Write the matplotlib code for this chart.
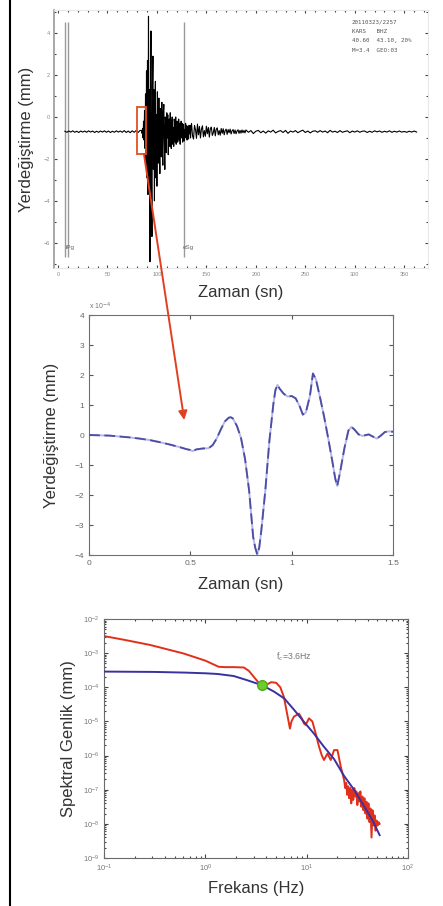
import numpy as np
import matplotlib
matplotlib.use("Agg")
import matplotlib.pyplot as plt
from matplotlib.patches import Rectangle, ConnectionPatch
from matplotlib.lines import Line2D
from matplotlib.ticker import MultipleLocator, LogLocator, NullFormatter

plt.rcParams['font.family'] = ['Liberation Sans', 'DejaVu Sans']

# ---------------- seismogram (top panel) ----------------
trace_offset = -0.7          # DC level of the record
pre_t0, pre_dt = 7.0, 2.0
pre_event = [0.02, -0.03, 0.03, -0.02, 0.04, -0.03, 0.02, -0.04, 0.03, -0.02,
             0.03, -0.03, 0.04, -0.02, 0.03, -0.04, 0.02, -0.03, 0.03, -0.02,
             0.04, -0.03, 0.03, -0.04, 0.02, -0.03, 0.04, -0.02, 0.03, -0.03,
             0.05, -0.04, 0.03, -0.05, 0.04, -0.03, 0.05, -0.04, 0.06]
strong_t0, strong_dt = 84.5, 0.5
strong_motion = [0.05, -0.08, 0.15, -0.3, 0.5, -0.4, 1.0, -0.8, 1.8, -1.5,
                 2.9, -2.2, 3.4, -3.0, 5.5, -1.8, 2.0, -6.2, 1.5, 4.8,
                 -2.5, -5.0, 2.2, 3.6, -1.8, 2.0, -3.3, 1.2, 2.4, -2.2,
                 0.8, -2.6, 1.9, 0.5, -1.5, 1.6, -0.8, -2.0, 1.1, 0.6,
                 -1.2, 1.4, -0.6, -1.6, 0.9, 1.3, -0.5, -1.8, 0.7, 0.4,
                 -1.0, 0.9, -0.3, 0.8, -1.1, 0.3, 0.6, -0.7, 0.9, -0.4,
                 -0.8, 0.5, 0.7, -0.6, 0.2, -0.7, 0.6, 0.3, -0.5, 0.7,
                 -0.6, 0.2, 0.5, -0.5, -0.2, 0.6, -0.4, 0.4, -0.6, 0.1,
                 0.5, -0.3, 0.4, -0.5, 0.2, 0.35, -0.45, 0.1, -0.3, 0.4,
                 -0.2, 0.3, -0.4, 0.25, 0.1, -0.35, 0.3, -0.1, 0.3, -0.3, 0.25]
coda_t0, coda_dt = 135.0, 1.0
coda = [0.38, -0.2, -0.35, 0.3, 0.1, -0.32, 0.36, -0.15, 0.25, -0.3,
        0.12, 0.28, -0.25, 0.05, -0.22, 0.26, -0.1, 0.2, -0.26, 0.15,
        0.22, -0.18, -0.05, 0.2, -0.2, 0.12, 0.18, -0.15, 0.05, -0.17,
        0.15, -0.08, 0.14, -0.15, 0.05, 0.12, -0.13, 0.1, -0.05, 0.12,
        -0.11, 0.04, 0.1, -0.09, 0.08, -0.1, 0.03, 0.09, -0.08, 0.06,
        -0.07, 0.08, -0.05, 0.06, -0.06]
tail_t0, tail_dt = 190.0, 2.5
tail = [0.08, -0.03, 0.05, -0.09, 0.02, 0.06, -0.05, 0.03, -0.07, 0.04,
        -0.02, 0.07, -0.06, 0.01, 0.05, -0.04, 0.06, -0.08, 0.03, -0.02,
        0.05, -0.05, 0.02, 0.07, -0.04, 0.03, -0.06, 0.02, 0.04, -0.03,
        0.05, -0.02, 0.03, -0.05, 0.06, -0.02, 0.02, -0.04, 0.05, -0.03,
        0.01, 0.04, -0.05, 0.03, -0.02, 0.04, -0.03, 0.02, 0.03, -0.04,
        0.02, -0.03, 0.04, -0.01, 0.03, -0.03, 0.02, -0.02, 0.04, -0.03,
        0.02, -0.02, 0.03, -0.02, 0.01, -0.03, 0.02, -0.02, 0.03, -0.02]
pick_times = [7.0, 10.0, 127.0]
pick_labels = ['iPg', 'eSg']
pick_label_times = [8.0, 126.0]
window_start, window_end = 79.8, 88.9          # zoomed window (s)
window_low, window_high = -1.76, 0.48
header_lines = ['20110323/2257', 'KARS   BHZ', '40.60  43.10, 20%', 'M=3.4  GEO:03']
top_xticks = [0, 50, 100, 150, 200, 250, 300, 350]
top_yticks = [4, 2, 0, -2, -4, -6]

# ---------------- zoomed window (middle panel) ----------------
zoom_time = [0, 0.05, 0.10, 0.15, 0.20, 0.25, 0.30, 0.35, 0.40, 0.45,
             0.48, 0.50, 0.51, 0.53, 0.56, 0.59, 0.61, 0.63, 0.65, 0.67,
             0.69, 0.70, 0.71, 0.73, 0.75, 0.77, 0.79, 0.81, 0.82, 0.83,
             0.84, 0.85, 0.87, 0.89, 0.91, 0.92, 0.93, 0.94, 0.96, 0.98,
             1.00, 1.02, 1.04, 1.055, 1.07, 1.09, 1.105, 1.12, 1.14, 1.16,
             1.18, 1.20, 1.215, 1.225, 1.24, 1.26, 1.28, 1.295, 1.31, 1.33,
             1.35, 1.38, 1.40, 1.42, 1.44, 1.46, 1.48, 1.50]
zoom_disp = [0, -0.01, -0.02, -0.05, -0.08, -0.12, -0.17, -0.24, -0.32, -0.41,
             -0.47, -0.50, -0.54, -0.48, -0.45, -0.44, -0.34, -0.12, 0.18, 0.45,
             0.58, 0.59, 0.55, 0.30, -0.10, -0.80, -1.85, -3.40, -3.75, -3.98,
             -3.75, -3.20, -1.85, -0.20, 1.05, 1.50, 1.67, 1.55, 1.38, 1.28,
             1.30, 1.22, 0.95, 0.68, 0.75, 1.30, 2.05, 1.85, 1.25, 0.61,
             -0.10, -0.85, -1.45, -1.70, -1.20, -0.45, 0.15, 0.27, 0.18, 0.02,
             -0.03, 0.02, -0.05, -0.12, -0.02, 0.10, 0.12, 0.11]   # x 1e-4 mm
mid_xticks = [0, 0.5, 1, 1.5]
mid_xticklabels = ['0', '0.5', '1', '1.5']
mid_yticks = [-4, -3, -2, -1, 0, 1, 2, 3, 4]

# ---------------- displacement spectrum (bottom panel) ----------------
obs_log_f = [-1.00, -0.80, -0.545, -0.40, -0.215, 0.0, 0.132, 0.20, 0.28, 0.38,
             0.43, 0.48, 0.53, 0.56, 0.60, 0.65, 0.70, 0.74, 0.775, 0.81,
             0.835, 0.85, 0.874, 0.924, 0.95, 0.973, 0.99, 1.023, 1.056, 1.089,
             1.122, 1.15, 1.171, 1.205, 1.238, 1.27, 1.304, 1.337, 1.37, 1.38,
             1.39, 1.40, 1.41, 1.42, 1.43, 1.44, 1.45, 1.46, 1.47, 1.48,
             1.49, 1.50, 1.51, 1.52, 1.53, 1.54, 1.55, 1.56, 1.57, 1.58,
             1.59, 1.60, 1.61, 1.62, 1.63, 1.64, 1.65, 1.66, 1.67, 1.68,
             1.69, 1.70, 1.71, 1.72]
obs_log_amp = [-2.50, -2.61, -2.76, -2.87, -3.01, -3.22, -3.40, -3.41, -3.41, -3.42,
               -3.52, -3.70, -3.88, -3.98, -3.93, -3.85, -3.87, -4.00, -4.28, -4.82,
               -5.21, -5.00, -4.86, -4.77, -4.90, -5.06, -5.10, -4.91, -5.00, -5.35,
               -5.74, -6.00, -6.13, -5.94, -6.13, -5.84, -5.84, -6.33, -6.72, -6.95,
               -6.80, -7.15, -6.90, -7.25, -6.95, -7.40, -7.00, -7.30, -6.95, -7.20,
               -7.05, -7.45, -7.10, -7.35, -7.05, -7.50, -7.20, -7.60, -7.25, -7.70,
               -7.35, -7.85, -7.40, -7.95, -7.55, -8.40, -7.60, -8.05, -7.75, -8.20,
               -7.90, -8.05, -7.95, -8.00]
model_log_f = [-1.0, -0.5, -0.2, 0.0, 0.12, 0.28, 0.41, 0.56, 0.68, 0.78,
               0.87, 0.97, 1.07, 1.17, 1.27, 1.37, 1.47, 1.57, 1.65, 1.72]
model_log_amp = [-3.54, -3.55, -3.57, -3.59, -3.61, -3.67, -3.79, -3.94, -4.13, -4.33,
                 -4.64, -5.00, -5.35, -5.74, -6.10, -6.60, -7.01, -7.50, -7.90, -8.33]
corner_freq = 3.6         # Hz
corner_amp = 1.15e-4      # mm

# ---------------- figure ----------------
W, H = 443, 906
fig = plt.figure(figsize=(W / 100, H / 100), dpi=100)
fig.patch.set_facecolor('white')


def axes_px(left, top, right, bottom):
    return fig.add_axes([left / W, 1 - bottom / H, (right - left) / W, (bottom - top) / H])


label_color = '#333333'

# ---- top: full record ----
ax1 = axes_px(54, 10, 428, 268)
t_rec = np.concatenate([
    pre_t0 + pre_dt * np.arange(len(pre_event)),
    strong_t0 + strong_dt * np.arange(len(strong_motion)),
    coda_t0 + coda_dt * np.arange(len(coda)),
    tail_t0 + tail_dt * np.arange(len(tail)),
])
u_rec = np.concatenate([pre_event, strong_motion, coda, tail]) + trace_offset
ax1.plot(t_rec, u_rec, color='black', lw=0.8, zorder=2)
ax1.vlines(pick_times, -6.67, 4.52, colors='#9a9a9a', lw=1.0, zorder=1)
for lt, lab in zip(pick_label_times, pick_labels):
    ax1.text(lt, -6.24, lab, fontsize=4.5, color='#666666', ha='left', va='center')
ax1.add_patch(Rectangle((window_start, window_low), window_end - window_start,
                        window_high - window_low, fill=False, ec='#e05020',
                        lw=1.3, zorder=3))
for i, line in enumerate(header_lines):
    ax1.text(0.797, 0.955 - i * 0.037, line, transform=ax1.transAxes,
             fontsize=4.2, color='#555555', ha='left', va='center',
             family='DejaVu Sans Mono')
ax1.set_xlim(-4, 374)
ax1.set_ylim(-7.2, 5.1)
ax1.set_xticks(top_xticks)
ax1.set_yticks(top_yticks)
ax1.xaxis.set_minor_locator(MultipleLocator(10))
ax1.yaxis.set_minor_locator(MultipleLocator(1))
ax1.tick_params(which='both', direction='in', top=True, right=True,
                color='#444444', labelsize=4, labelcolor='#8a8a8a', width=0.8)
ax1.tick_params(which='major', length=2.5, pad=3)
ax1.tick_params(which='minor', length=1.2)
for sp in ax1.spines.values():
    sp.set_color('#e8e8e8')
ax1.spines['left'].set_color('#9a9a9a')
ax1.spines['left'].set_linewidth(1.2)
ax1.set_ylabel('Yerdeğiştirme (mm)', fontsize=12, color=label_color)
ax1.yaxis.set_label_coords((27 - 54) / 374, 0.5)
ax1.yaxis.label.set_va('center')
ax1.set_xlabel('Zaman (sn)', fontsize=12, color=label_color)
ax1.xaxis.set_label_coords(0.5, (268 - 292) / 258)
ax1.xaxis.label.set_va('center')

# ---- middle: zoomed displacement ----
ax2 = axes_px(89, 315, 393, 555)
ax2.plot(zoom_time, zoom_disp, color='#b4b8e6', lw=1.4, zorder=2)
ax2.plot(zoom_time, zoom_disp, color='#4c4ca6', lw=1.3, ls=(0, (6, 2.5)), zorder=3)
ax2.set_xlim(0, 1.5)
ax2.set_ylim(-4, 4)
ax2.set_xticks(mid_xticks)
ax2.set_xticklabels(mid_xticklabels)
ax2.set_yticks(mid_yticks)
ax2.tick_params(direction='in', top=True, right=True, length=3, width=0.8,
                color='#555555', labelsize=6, labelcolor='#666666')
for sp in ax2.spines.values():
    sp.set_color('#707070')
ax2.text(0.0, 1.012, r'x 10$^{-4}$', transform=ax2.transAxes, fontsize=5,
         color='#777777', ha='left', va='bottom')
ax2.set_ylabel('Yerdeğiştirme (mm)', fontsize=12, color=label_color)
ax2.yaxis.set_label_coords((52 - 89) / 304, 0.5)
ax2.yaxis.label.set_va('center')
ax2.set_xlabel('Zaman (sn)', fontsize=12, color=label_color)
ax2.xaxis.set_label_coords(0.5, (555 - 585) / 240)
ax2.xaxis.label.set_va('center')

# ---- bottom: spectrum ----
ax3 = axes_px(104, 619, 408, 858)
ax3.set_xscale('log')
ax3.set_yscale('log')
ax3.plot(10 ** np.array(obs_log_f), 10 ** np.array(obs_log_amp),
         color='#e0301a', lw=1.4, zorder=2)
ax3.plot(10 ** np.array(model_log_f), 10 ** np.array(model_log_amp),
         color='#3a30a0', lw=1.4, zorder=3)
ax3.plot([corner_freq], [corner_amp], 'o', color='#6acd2a', mec='#55a820',
         ms=7, zorder=4)
ax3.text(4.93, 7.7e-4, f'f$_c$={corner_freq:g}Hz', fontsize=6.3,
         color='#777777', ha='left', va='center')
ax3.set_xlim(0.1, 100)
ax3.set_ylim(1e-9, 1e-2)
ax3.xaxis.set_major_locator(LogLocator(base=10, numticks=10))
ax3.yaxis.set_major_locator(LogLocator(base=10, numticks=12))
ax3.xaxis.set_minor_locator(LogLocator(base=10, subs=np.arange(2, 10), numticks=30))
ax3.yaxis.set_minor_locator(LogLocator(base=10, subs=np.arange(2, 10), numticks=30))
ax3.xaxis.set_minor_formatter(NullFormatter())
ax3.yaxis.set_minor_formatter(NullFormatter())
ax3.tick_params(which='both', direction='in', top=True, right=True,
                color='#444444', width=0.8, labelsize=5.5, labelcolor='#777777')
ax3.tick_params(which='major', length=3)
ax3.tick_params(which='minor', length=1.5)
for sp in ax3.spines.values():
    sp.set_color('#6a6a6a')
ax3.set_ylabel('Spektral Genlik (mm)', fontsize=12, color=label_color)
ax3.yaxis.set_label_coords((68 - 104) / 304, 0.5)
ax3.yaxis.label.set_va('center')
ax3.set_xlabel('Frekans (Hz)', fontsize=12, color=label_color)
ax3.xaxis.set_label_coords(0.5, (858 - 888) / 239)
ax3.xaxis.label.set_va('center')

# ---- arrow from the selected window to its zoom ----
arrow = ConnectionPatch(xyA=(86.9, window_low), coordsA=ax1.transData,
                        xyB=(0.47, 0.5), coordsB=ax2.transData,
                        arrowstyle='-|>', mutation_scale=13, color='#e04020',
                        lw=1.4, zorder=10)
fig.add_artist(arrow)

# slide frame line on the left edge
fig.add_artist(Line2D([9.5 / W, 9.5 / W], [0, 1], transform=fig.transFigure,
                      color='black', lw=1.5))

fig.savefig('out.png', dpi=100, facecolor='white')
